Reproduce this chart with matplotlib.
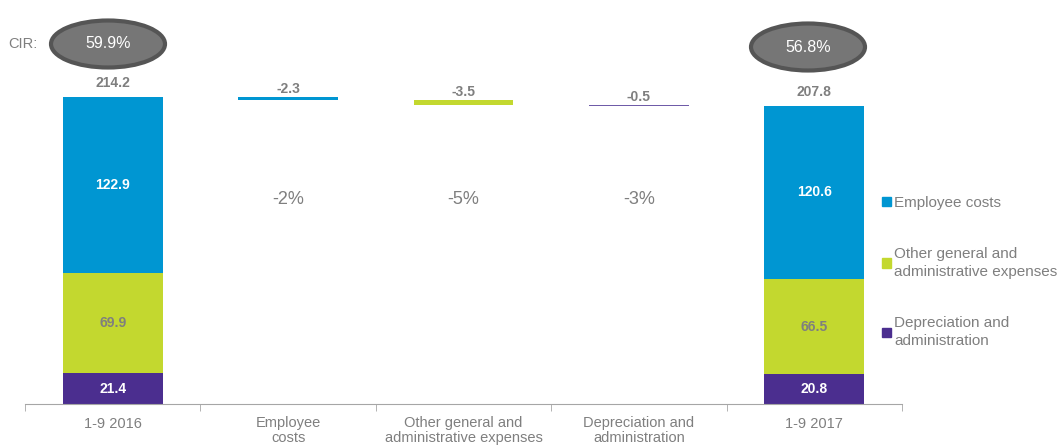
import numpy as np
import matplotlib.pyplot as plt
from matplotlib.patches import Ellipse, Patch

# --- dados ---
categorias = ['1-9 2016', 'Employee\ncosts', 'Other general and\nadministrative expenses',
              'Depreciation and\nadministration', '1-9 2017']
series = ['Employee costs', 'Other general and\nadministrative expenses', 'Depreciation and\nadministration']
inicio = [21.4, 69.9, 122.9]   # depreciation, other, employee
fim = [20.8, 66.5, 120.6]
variacoes = [-2.3, -3.5, -0.5]
variacoes_pct = ['-2%', '-5%', '-3%']
totais = [214.2, 207.8]
cir = ['59.9%', '56.8%']

cores = ['#4B2E8F', '#C3D82F', '#0096D2']  # depreciation, other, employee
cor_delta = ['#0096D2', '#C3D82F', '#6F5BA8']
cinza = '#7F7F7F'
plt.rcParams['font.family'] = ['Liberation Sans', 'DejaVu Sans']

fig = plt.figure(figsize=(10.62, 4.46), dpi=100)
ax = fig.add_axes([25/1062, 42/446, 877/1062, 404/446])
x = np.arange(len(categorias))
larg = 0.57

# barras empilhadas (inicio e fim)
for xi, valores in [(0, inicio), (4, fim)]:
    base = 0
    for k, v in enumerate(valores):
        ax.bar(xi, v, bottom=base, width=larg, color=cores[k])
        cor_txt = cinza if k == 1 else 'white'
        ax.text(xi, base + v / 2, f'{v:.1f}', ha='center', va='center',
                color=cor_txt, fontsize=10, fontweight='bold')
        base += v

ax.text(0, totais[0] + 5, f'{totais[0]:.1f}', ha='center', va='bottom',
        color=cinza, fontsize=10, fontweight='bold')
ax.text(4, totais[1] + 5, f'{totais[1]:.1f}', ha='center', va='bottom',
        color=cinza, fontsize=10, fontweight='bold')

# cascata
nivel = totais[0]
for i, d in enumerate(variacoes):
    ax.bar(i + 1, -d, bottom=nivel + d, width=larg, color=cor_delta[i])
    ax.text(i + 1, nivel + 1.0, f'{d:.1f}', ha='center', va='bottom',
            color=cinza, fontsize=10, fontweight='bold')
    ax.text(i + 1, 143, variacoes_pct[i], ha='center', va='center',
            color=cinza, fontsize=13)
    nivel += d

ax.set_xlim(-0.5, 4.5)
ax.set_ylim(0, 214.2 * 404 / 307)
ax.set_yticks([])
for s in ['top', 'right', 'left']:
    ax.spines[s].set_visible(False)
ax.spines['bottom'].set_color('#A6A6A6')
ax.set_xticks(x)
ax.set_xticklabels(categorias, color=cinza, fontsize=10.5, linespacing=1.05)
ax.tick_params(axis='x', which='major', length=0, pad=9)
ax.set_xticks(np.arange(-0.5, 5, 1), minor=True)
ax.tick_params(axis='x', which='minor', length=5, color='#A6A6A6')

# CIR
fig.text(8/1062, 1 - 44/446, 'CIR:', ha='left', va='center', color=cinza, fontsize=10.5)
for cx, cy, txt in [(108, 44, cir[0]), (808, 47, cir[1])]:
    e = Ellipse((cx/1062, 1 - cy/446), 114/1062, 47/446, transform=fig.transFigure,
                facecolor='#767676', edgecolor='#555555', linewidth=3)
    fig.patches.append(e)
    fig.text(cx/1062, 1 - cy/446, txt, ha='center', va='center', color='white', fontsize=11.5)

# legenda
handles = [Patch(color=cores[2]), Patch(color=cores[1]), Patch(color=cores[0])]
leg = fig.legend(handles, series, loc='upper left', bbox_to_anchor=(868/1062, 1 - 182/446),
                 frameon=False, fontsize=11, labelcolor=cinza, handlelength=0.6, handleheight=0.6,
                 handletextpad=0.2, labelspacing=2.45)
for t in leg.get_texts():
    t.set_linespacing(1.35)

plt.savefig('out.png', dpi=100)
